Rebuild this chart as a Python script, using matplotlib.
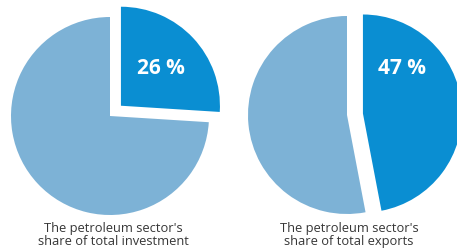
import matplotlib.pyplot as plt

# shares of the petroleum sector (percent)
invest = [26, 74]
exports = [47, 53]
pct_labels = ["26 %", "47 %"]
captions = ["The petroleum sector's\nshare of total investment",
            "The petroleum sector's\nshare of total exports"]

dark = "#0a8ed2"
light = "#7db2d6"

fig = plt.figure(figsize=(4.57, 2.53), dpi=100)
ax = fig.add_axes([0, 0, 1, 1])

# left pie, investment (explode is in data units = pixels here)
ax.pie(invest, colors=[dark, light], explode=[15, 0], startangle=90,
       counterclock=False, radius=99, center=(110, 136), frame=True,
       wedgeprops=dict(linewidth=0))
# right pie, exports
ax.pie(exports, colors=[dark, light], explode=[16, 0], startangle=90,
       counterclock=False, radius=99, center=(347, 137), frame=True,
       wedgeprops=dict(linewidth=0))
ax.set_xlim(0, 457)
ax.set_ylim(0, 253)
ax.set_aspect("equal")
ax.axis("off")

ax.text(161, 185, pct_labels[0], color="white", fontsize=15, fontweight="bold",
        family="Open Sans", ha="center", va="center")
ax.text(402, 185, pct_labels[1], color="white", fontsize=15, fontweight="bold",
        family="Open Sans", ha="center", va="center")

ax.text(113, 18, captions[0], color="#363636", fontsize=9.3, family="Open Sans",
        ha="center", va="center", linespacing=1.05)
ax.text(349, 18, captions[1], color="#363636", fontsize=9.3, family="Open Sans",
        ha="center", va="center", linespacing=1.05)

fig.savefig("out.png", dpi=100)
